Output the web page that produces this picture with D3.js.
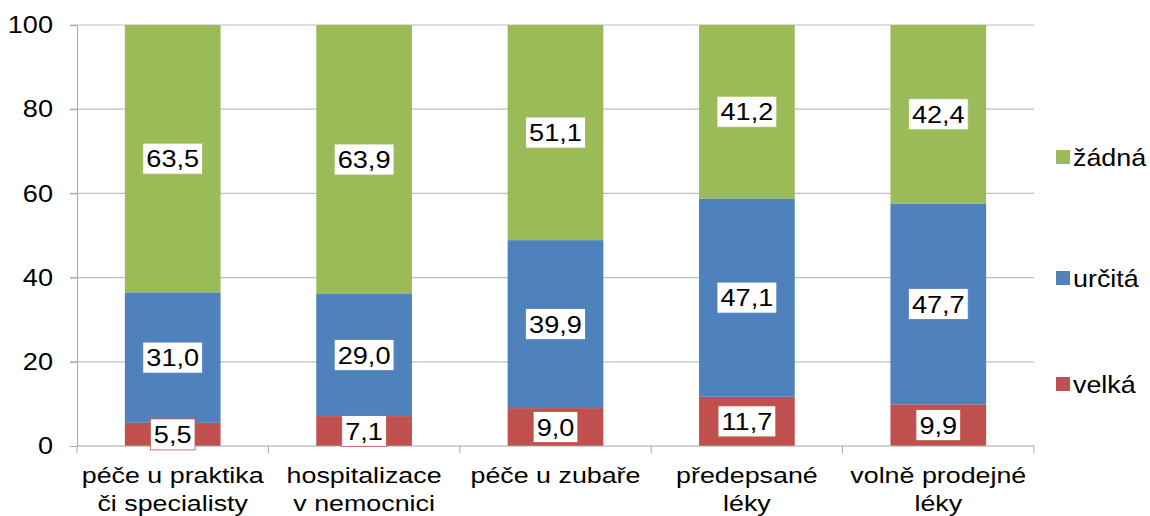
<!DOCTYPE html>
<html lang="cs">
<head>
	<meta charset="UTF-8">
	<title>Stacked bars</title>
	<script src="https://cdn.jsdelivr.net/npm/d3@7"></script>
	<style>
		body { margin: 0; background: #fff; }
		text { font-family: "Liberation Sans", Arial, sans-serif; fill: #000; }
	</style>
</head>
<body>
	<svg id="svg"></svg>
	<script>
		var categories = [
			["péče u praktika", "či specialisty"],
			["hospitalizace", "v nemocnici"],
			["péče u zubaře"],
			["předepsané", "léky"],
			["volně prodejné", "léky"]
		];
		var seriesNames = ["velká", "určitá", "žádná"];
		var velka = [5.5, 7.1, 9.0, 11.7, 9.9];
		var urcita = [31.0, 29.0, 39.9, 47.1, 47.7];
		var zadna = [63.5, 63.9, 51.1, 41.2, 42.4];
		var yTicks = [0, 20, 40, 60, 80, 100];
		var colors = ["#C0504D", "#4F81BD", "#9BBB59"];

		var w = 1150, h = 516,
			pLeft = 77, pRight = 1034, pTop = 25, pBottom = 446;
		var svg = d3.select("#svg").attr("width", w).attr("height", h);

		// the text in the picture is a bit wider than plain Arial
		function stretch(sel, s) {
			sel.attr("transform", function() {
				var x0 = +this.getAttribute("x") || 0;
				return "translate(" + (x0 * (1 - s)) + ",0) scale(" + s + ",1)";
			});
		}

		var rows = categories.map(function(c, i) {
			return { i: i, velka: velka[i], urcita: urcita[i], zadna: zadna[i] };
		});
		var keys = ["velka", "urcita", "zadna"];
		var stacked = d3.stack().keys(keys)(rows);

		var x = d3.scaleBand().domain(d3.range(categories.length))
			.range([pLeft, pRight]).paddingInner(0.5).paddingOuter(0.25);
		var y = d3.scaleLinear().domain([0, 100]).range([pBottom, pTop]);

		// grid
		svg.append("g").selectAll("line").data(yTicks.filter(function(d) { return d > 0; }))
			.enter().append("line")
			.attr("x1", pLeft - 7).attr("x2", pRight)
			.attr("y1", function(d) { return y(d); }).attr("y2", function(d) { return y(d); })
			.attr("stroke", "#BEBEBE").attr("stroke-width", 1.2);

		// y axis
		var ya = svg.append("g").attr("transform", "translate(" + pLeft + ",0)")
			.call(d3.axisLeft(y).tickValues(yTicks).tickSize(7).tickPadding(17));
		ya.select(".domain").attr("stroke", "#A6A6A6");
		ya.selectAll(".tick line").attr("stroke", "#A6A6A6");
		ya.selectAll("text").style("font-size", "24px").attr("fill", "#000")
			.style("font-family", "'Liberation Sans', Arial, sans-serif")
			.call(stretch, 1.13);

		// bars
		var layer = svg.selectAll(".layer").data(stacked).enter().append("g")
			.attr("fill", function(d, i) { return colors[i]; });
		layer.selectAll("rect").data(function(d) { return d; }).enter().append("rect")
			.attr("x", function(d, i) { return x(i); })
			.attr("width", x.bandwidth())
			.attr("y", function(d) { return y(d[1]); })
			.attr("height", function(d) { return y(d[0]) - y(d[1]); });

		// x axis
		svg.append("line").attr("x1", pLeft).attr("x2", pRight)
			.attr("y1", pBottom).attr("y2", pBottom)
			.attr("stroke", "#A6A6A6").attr("stroke-width", 1.2);
		var step = x.step();
		svg.append("g").selectAll("line").data(d3.range(categories.length + 1))
			.enter().append("line")
			.attr("x1", function(d) { return pLeft + d * step; })
			.attr("x2", function(d) { return pLeft + d * step; })
			.attr("y1", pBottom).attr("y2", pBottom + 7)
			.attr("stroke", "#A6A6A6");

		var cl = svg.append("g").selectAll("text").data(categories).enter().append("text")
			.attr("text-anchor", "middle")
			.style("font-size", "22px")
			.attr("x", function(d, i) { return x(i) + x.bandwidth() / 2; });
		cl.selectAll("tspan").data(function(d) { return d; }).enter().append("tspan")
			.attr("x", function() { return this.parentNode.getAttribute("x"); })
			.attr("y", function(d, j) { return 483 + j * 28; })
			.text(function(d) { return d; });
		cl.call(stretch, 1.22);

		// data labels
		var ls = 1.13;
		stacked.forEach(function(s, si) {
			s.forEach(function(d, i) {
				var cx = x(i) + x.bandwidth() / 2,
					cy = (y(d[0]) + y(d[1])) / 2,
					txt = d3.format(".1f")(d[1] - d[0]).replace(".", ",");
				var g = svg.append("g");
				var t = g.append("text").attr("x", cx).attr("y", cy)
					.attr("text-anchor", "middle").attr("dy", "0.36em")
					.style("font-size", "24px").text(txt);
				t.call(stretch, ls);
				var bw = t.node().getBBox().width * ls + 7;
				g.insert("rect", "text")
					.attr("x", cx - bw / 2).attr("y", cy - 15.5)
					.attr("width", bw).attr("height", 31)
					.attr("fill", "#fff").attr("stroke", colors[si]).attr("stroke-width", 0.8);
			});
		});

		// legend
		var legY = [384, 278, 157];
		var lg = svg.selectAll(".leg").data(seriesNames).enter().append("g")
			.attr("transform", function(d, i) { return "translate(1056," + legY[i] + ")"; });
		lg.append("rect").attr("x", 0).attr("y", -7).attr("width", 14).attr("height", 14)
			.attr("fill", function(d, i) { return colors[i]; });
		lg.append("text").attr("x", 17).attr("dy", "0.36em")
			.style("font-size", "24px").text(function(d) { return d; })
			.call(stretch, 1.12);
	</script>
</body>
</html>
